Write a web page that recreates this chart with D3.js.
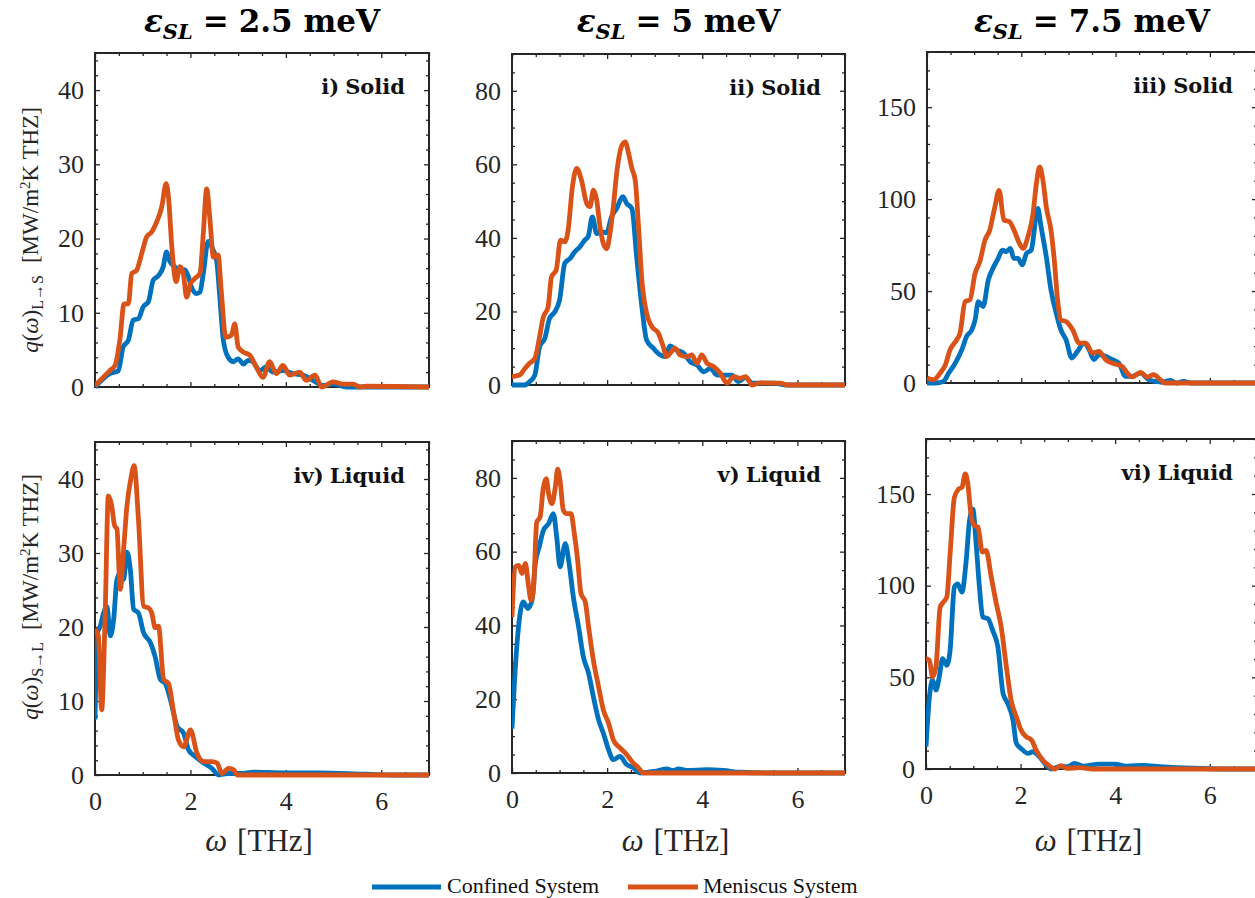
<!DOCTYPE html>
<html><head><meta charset="utf-8">
<script src="https://cdn.jsdelivr.net/npm/d3@7"></script>
<style>body{margin:0;background:#fff} svg{display:block}</style>
</head><body>
<svg id="chart" width="1255" height="898"></svg>
<script>
// ---------------- DATA ----------------
const energies = ["2.5", "5", "7.5"];
const panelLabels = ["i) Solid", "ii) Solid", "iii) Solid", "iv) Liquid", "v) Liquid", "vi) Liquid"];
const seriesNames = ["Confined System", "Meniscus System"];
const omegaTicks = [0, 2, 4, 6];
const yTicks25 = [0, 10, 20, 30, 40];
const yTicks5 = [0, 20, 40, 60, 80];
const yTicks75 = [0, 50, 100, 150];
const yMaxes = [45, 90, 180];

// solid, eps = 2.5 meV  [omega THz, q]
const solid25Confined = [[0,0],[0.31,1.8],[0.49,2.2],[0.59,5.4],[0.70,6.3],[0.80,9],[0.91,9.2],[1.01,10.8],[1.12,11.5],[1.22,14.4],[1.33,15],[1.43,16.2],[1.50,18.2],[1.57,16.9],[1.67,16.2],[1.78,15.7],[1.88,15.8],[1.95,15],[2.02,13.5],[2.13,12.6],[2.20,12.8],[2.27,15.3],[2.37,19.6],[2.48,18.4],[2.55,17],[2.62,11.7],[2.69,6.3],[2.79,4],[2.90,3.4],[3.00,3.8],[3.11,3.1],[3.21,3.6],[3.31,3.4],[3.45,2.2],[3.59,2.7],[3.73,2],[3.94,2.2],[4.15,1.8],[4.36,1.6],[4.57,0.9],[4.78,0.2],[4.99,0.4],[5.27,0],[7,0]];
const solid25Meniscus = [[0,0.2],[0.17,1.3],[0.31,2.2],[0.42,2.9],[0.52,6.3],[0.61,11.2],[0.70,11.2],[0.77,15.3],[0.87,15.7],[0.98,18],[1.08,20.2],[1.19,20.9],[1.29,22.2],[1.40,24.3],[1.49,27.4],[1.54,25.6],[1.61,18.9],[1.70,14.2],[1.78,16.2],[1.85,15.3],[1.92,12.1],[2.00,13.9],[2.09,14.6],[2.20,15.3],[2.27,20.7],[2.34,26.7],[2.41,22.5],[2.48,17.5],[2.58,17.8],[2.65,12.6],[2.74,6.7],[2.86,7],[2.93,8.5],[3.00,5.4],[3.11,4.7],[3.24,4.3],[3.38,2.7],[3.52,1.3],[3.66,3.4],[3.80,1.8],[3.94,2.9],[4.08,1.6],[4.29,2],[4.43,0.9],[4.61,1.6],[4.75,0],[4.99,0.7],[5.20,0.4],[5.41,0.4],[5.55,0],[5.69,0.1],[7,0]];
// solid, eps = 5 meV
const solid5Confined = [[0,0],[0.27,0],[0.37,0.9],[0.48,2.7],[0.58,10.4],[0.69,12.7],[0.79,18.1],[0.90,19.9],[1.00,23.1],[1.11,33.1],[1.22,34.4],[1.32,36.2],[1.43,37.6],[1.53,39.4],[1.60,40.3],[1.69,45.7],[1.78,41.2],[1.88,41.7],[1.99,41.4],[2.09,45.7],[2.20,48],[2.33,51.2],[2.41,49.4],[2.52,48],[2.62,34.9],[2.73,21.3],[2.83,12.2],[2.97,10],[3.11,8.2],[3.22,7.7],[3.32,10.6],[3.46,9.5],[3.61,8.6],[3.75,6.3],[3.89,5.4],[4.03,3.6],[4.17,4.5],[4.31,2.7],[4.45,2.7],[4.62,2.7],[4.76,0.9],[4.91,2.1],[5.05,0.5],[5.22,0.5],[5.50,0.5],[5.78,0],[7,0]];
const solid5Meniscus = [[0,2.3],[0.16,2.7],[0.27,4.5],[0.37,5.9],[0.48,7.2],[0.58,13.1],[0.65,18.1],[0.76,21.3],[0.83,29.4],[0.93,31.3],[1.02,39.4],[1.11,38.9],[1.18,42.1],[1.27,53.9],[1.36,58.9],[1.46,55.7],[1.57,49.4],[1.64,48.5],[1.71,53],[1.78,50.3],[1.85,43],[1.92,38.5],[1.99,37.1],[2.06,41.2],[2.13,48.5],[2.20,57.5],[2.30,64.8],[2.38,66.1],[2.45,63],[2.52,58.9],[2.59,55.7],[2.66,43],[2.73,28.5],[2.83,19.5],[2.94,15.9],[3.08,14],[3.18,10.4],[3.25,7.7],[3.32,8.6],[3.43,10],[3.53,8.2],[3.68,7.7],[3.78,8.2],[3.89,5.9],[3.99,8.2],[4.10,5.9],[4.24,5],[4.38,3.2],[4.52,0.5],[4.66,2.3],[4.80,1.8],[4.91,2.3],[5.05,0],[5.22,0.6],[5.43,0.5],[5.64,0.5],[5.78,0],[7,0]];
// solid, eps = 7.5 meV
const solid75Confined = [[0,0],[0.18,0],[0.35,0.9],[0.46,5.4],[0.60,10.8],[0.74,18.1],[0.84,25.3],[0.95,28.9],[1.02,34.3],[1.09,44.3],[1.19,41.6],[1.30,56],[1.40,62.4],[1.51,67.8],[1.60,72.3],[1.68,71.4],[1.77,73.2],[1.84,67.8],[1.93,67.8],[2.02,64.2],[2.11,70.5],[2.21,72.3],[2.35,94.9],[2.42,84.9],[2.53,68.7],[2.63,50.6],[2.74,38],[2.84,28.9],[2.95,23.5],[3.07,13.6],[3.19,17.2],[3.33,21.7],[3.44,18.1],[3.54,12.7],[3.65,15.4],[3.79,14.5],[3.93,12.7],[4.07,10.8],[4.21,3.6],[4.35,3.6],[4.53,5.4],[4.70,1.8],[4.84,0.9],[4.98,0.4],[5.16,1.4],[5.30,0],[5.44,0.9],[5.61,0],[7,0]];
const solid75Meniscus = [[0,2.7],[0.14,1.8],[0.28,5.4],[0.39,9.9],[0.49,18.1],[0.63,23.5],[0.70,27.1],[0.81,44.3],[0.91,45.2],[1.02,59.6],[1.12,66],[1.23,77.7],[1.33,83.1],[1.44,95.8],[1.53,104.8],[1.63,88.6],[1.75,87.7],[1.86,82.2],[1.96,75.9],[2.04,73.2],[2.14,79.5],[2.25,92.2],[2.32,108.4],[2.39,117.5],[2.46,110.2],[2.53,95.8],[2.63,83.1],[2.70,66.9],[2.77,45.2],[2.84,34.3],[2.95,33.4],[3.09,28.9],[3.23,21.7],[3.37,21.7],[3.51,16.3],[3.65,17.2],[3.79,12.7],[3.93,10.8],[4.14,9],[4.25,5.4],[4.35,3.3],[4.53,5.8],[4.67,3.3],[4.81,4.5],[4.95,1.8],[5.05,0],[7,0]];
// liquid, eps = 2.5 meV
const liquid25Confined = [[0,7.5],[0.05,19.2],[0.11,20.1],[0.18,21.9],[0.25,22.8],[0.32,18.8],[0.39,21],[0.46,26.4],[0.53,27.3],[0.60,26.4],[0.67,30.1],[0.74,27.8],[0.81,22.4],[0.91,21.9],[1.02,19.2],[1.16,17.9],[1.26,16],[1.37,12.9],[1.47,12.4],[1.58,10.2],[1.72,6.6],[1.86,5.6],[1.96,3.4],[2.10,2.5],[2.28,1.6],[2.45,0.9],[2.59,0],[2.77,0.2],[3.05,0.2],[3.33,0.4],[3.96,0.3],[4.66,0.3],[5.71,0.1],[6.41,0],[7,0]];
const liquid25Meniscus = [[0,19.7],[0.07,18.8],[0.14,8.8],[0.21,21],[0.28,37.7],[0.35,36.4],[0.41,33.7],[0.46,33.2],[0.53,25.1],[0.60,30.5],[0.67,36.4],[0.75,40],[0.82,41.8],[0.91,34.6],[1.02,22.8],[1.12,22.6],[1.19,21.9],[1.26,19.9],[1.33,20.1],[1.44,12.9],[1.54,12.4],[1.65,8.4],[1.75,4.7],[1.86,3.8],[2.00,6.1],[2.14,2.9],[2.28,1.8],[2.45,1.8],[2.56,1.6],[2.66,0.2],[2.80,0.9],[2.91,0.7],[2.98,0],[7,0]];
// liquid, eps = 5 meV
const liquid5Confined = [[0,12],[0.09,32.4],[0.17,43.2],[0.24,46.4],[0.33,44.6],[0.42,46.8],[0.49,56.8],[0.58,61.7],[0.66,65.8],[0.77,67.6],[0.87,70.3],[0.94,64],[1.01,55.9],[1.12,62.2],[1.19,57.7],[1.29,47.7],[1.40,39.6],[1.50,31.5],[1.61,27],[1.71,20.7],[1.82,14.4],[1.92,10.8],[2.03,6.3],[2.13,3.6],[2.27,4.5],[2.41,2.3],[2.55,1.4],[2.69,0],[2.83,0.2],[3.04,0.5],[3.25,1.1],[3.39,0.7],[3.50,1.1],[3.67,0.7],[4.09,0.9],[4.44,0.7],[4.79,0.2],[5.49,0],[7,0]];
const liquid5Meniscus = [[0,42.3],[0.07,55.9],[0.14,56.3],[0.21,54.1],[0.28,56.8],[0.35,50.5],[0.40,46.8],[0.45,49.5],[0.52,68],[0.59,69.4],[0.66,77.5],[0.72,79.8],[0.77,75.7],[0.84,73],[0.91,77.5],[0.96,82.4],[1.01,79.3],[1.08,71.2],[1.15,70.3],[1.24,70.3],[1.31,64.9],[1.38,57.7],[1.45,48.6],[1.54,46.4],[1.61,39.6],[1.71,30.6],[1.82,23.4],[1.92,17.1],[2.03,13.5],[2.13,9],[2.27,6.8],[2.41,5],[2.55,2.7],[2.66,1.4],[2.76,0],[7,0]];
// liquid, eps = 7.5 meV
const liquid75Confined = [[0,12.2],[0.08,41.2],[0.14,48.4],[0.21,43],[0.28,50.2],[0.35,60.2],[0.44,56.6],[0.51,64.8],[0.60,99.2],[0.67,101],[0.76,96.5],[0.85,113.7],[0.92,135.5],[0.99,141.8],[1.06,122.8],[1.13,99.2],[1.20,82.9],[1.31,82],[1.41,75.6],[1.52,66.6],[1.63,41.2],[1.73,35.7],[1.84,26.7],[1.91,14],[2.01,11.2],[2.16,8.5],[2.26,9.4],[2.40,6.7],[2.54,2.2],[2.65,0],[2.83,1.3],[3.00,1.3],[3.14,3.1],[3.32,1.6],[3.67,2.7],[3.99,2.7],[4.24,1.6],[4.59,2],[4.95,1.3],[5.65,0.4],[6.36,0],[7,0]];
const liquid75Meniscus = [[0,60.2],[0.07,59.3],[0.14,50.2],[0.21,55.7],[0.30,88.3],[0.37,91.1],[0.44,93.8],[0.51,117.4],[0.60,148.2],[0.69,152.7],[0.76,153.6],[0.83,160.9],[0.88,156.4],[0.95,139.1],[1.02,132.8],[1.10,131.9],[1.19,118.3],[1.27,119.2],[1.38,104.7],[1.48,91.1],[1.59,77.5],[1.70,55.7],[1.80,37.5],[1.91,28.5],[2.01,21.2],[2.12,17.6],[2.23,15.8],[2.33,10.3],[2.44,5.8],[2.58,2.2],[2.72,0],[2.86,1.8],[2.97,0.4],[3.25,0.7],[3.53,0],[7,0]];

// ---------------- LAYOUT / STYLE ----------------
const colors = ["#0072BD", "#D95319"];
const axisColor = "#262626";
const boxes = [
  {x: 95, y: 53, w: 334, h: 334},
  {x: 512, y: 54, w: 333, h: 331},
  {x: 927, y: 52, w: 330, h: 331},
  {x: 95, y: 442, w: 334, h: 333},
  {x: 512, y: 441, w: 333, h: 332},
  {x: 926, y: 439, w: 331, h: 330}
];
const panels = [
  {label: panelLabels[0], ymax: yMaxes[0], ticks: yTicks25, minor: 2, series: [solid25Confined, solid25Meniscus]},
  {label: panelLabels[1], ymax: yMaxes[1], ticks: yTicks5, minor: 5, series: [solid5Confined, solid5Meniscus]},
  {label: panelLabels[2], ymax: yMaxes[2], ticks: yTicks75, minor: 10, series: [solid75Confined, solid75Meniscus]},
  {label: panelLabels[3], ymax: yMaxes[0], ticks: yTicks25, minor: 2, series: [liquid25Confined, liquid25Meniscus]},
  {label: panelLabels[4], ymax: yMaxes[1], ticks: yTicks5, minor: 5, series: [liquid5Confined, liquid5Meniscus]},
  {label: panelLabels[5], ymax: yMaxes[2], ticks: yTicks75, minor: 10, series: [liquid75Confined, liquid75Meniscus]}
];

const svg = d3.select("#chart");
const serif = "'Liberation Serif', serif";
const boldSerif = "'DejaVu Serif', serif";

function styleAxis(g, showLabels) {
  g.attr("font-family", serif).attr("font-size", 26);
  g.select(".domain").remove();
  g.selectAll(".tick line").attr("stroke", axisColor).attr("stroke-width", 1.3);
  g.selectAll(".tick text").attr("fill", axisColor)
    .style("font-family", serif).style("font-size", "26px");
  if (!showLabels) g.selectAll(".tick text").remove();
}

panels.forEach((p, i) => {
  const b = boxes[i];
  const row = Math.floor(i / 3);
  const x = d3.scaleLinear().domain([0, 7]).range([b.x, b.x + b.w]);
  const y = d3.scaleLinear().domain([0, p.ymax]).range([b.y + b.h, b.y]);
  const g = svg.append("g");

  const xMinor = d3.range(0, 7.001, 0.5).filter(v => !omegaTicks.includes(v));
  const yMinor = d3.range(0, p.ymax + 0.001, p.minor).filter(v => !p.ticks.includes(v));
  const fmt = d3.format("d");

  // left
  g.append("g").attr("transform", `translate(${b.x},0)`)
    .call(d3.axisLeft(y).tickValues(p.ticks).tickFormat(fmt).tickSize(-5).tickPadding(11)).call(s => styleAxis(s, true));
  g.append("g").attr("transform", `translate(${b.x},0)`)
    .call(d3.axisLeft(y).tickValues(yMinor).tickSize(-3).tickFormat("")).call(s => styleAxis(s, false));
  // right
  g.append("g").attr("transform", `translate(${b.x + b.w},0)`)
    .call(d3.axisRight(y).tickValues(p.ticks).tickSize(-5).tickFormat("")).call(s => styleAxis(s, false));
  g.append("g").attr("transform", `translate(${b.x + b.w},0)`)
    .call(d3.axisRight(y).tickValues(yMinor).tickSize(-3).tickFormat("")).call(s => styleAxis(s, false));
  // bottom
  g.append("g").attr("transform", `translate(0,${b.y + b.h})`)
    .call(d3.axisBottom(x).tickValues(omegaTicks).tickFormat(fmt).tickSize(-5).tickPadding(17)).call(s => styleAxis(s, row === 1));
  g.append("g").attr("transform", `translate(0,${b.y + b.h})`)
    .call(d3.axisBottom(x).tickValues(xMinor).tickSize(-3).tickFormat("")).call(s => styleAxis(s, false));
  // top
  g.append("g").attr("transform", `translate(0,${b.y})`)
    .call(d3.axisTop(x).tickValues(omegaTicks).tickSize(-5).tickFormat("")).call(s => styleAxis(s, false));
  g.append("g").attr("transform", `translate(0,${b.y})`)
    .call(d3.axisTop(x).tickValues(xMinor).tickSize(-3).tickFormat("")).call(s => styleAxis(s, false));

  // frame
  g.append("rect").attr("x", b.x).attr("y", b.y).attr("width", b.w).attr("height", b.h)
    .attr("fill", "none").attr("stroke", axisColor).attr("stroke-width", 2);

  // clip
  const cid = "clip" + i;
  svg.append("clipPath").attr("id", cid).append("rect")
    .attr("x", b.x).attr("y", b.y - 6).attr("width", b.w).attr("height", b.h + 12);

  const line = d3.line().x(d => x(d[0])).y(d => y(d[1])).curve(d3.curveMonotoneX);
  p.series.forEach((s, k) => {
    g.append("path").datum(s).attr("d", line)
      .attr("clip-path", `url(#${cid})`)
      .attr("fill", "none").attr("stroke", colors[k]).attr("stroke-width", 4.8)
      .attr("stroke-linejoin", "round");
  });

  // panel label
  const pl = g.append("text").attr("x", b.x + b.w - 24).attr("y", b.y + 41)
    .attr("text-anchor", "end").style("font-family", boldSerif).style("font-weight", "bold")
    .style("font-size", "21px").attr("fill", "#111");
  const parts = p.label.split(" ");
  pl.append("tspan").text(parts[0]);
  pl.append("tspan").attr("dx", 6).text(parts[1]);

  // x axis title (bottom row)
  if (row === 1) {
    const t = svg.append("text").attr("x", b.x + b.w / 2 - 3).attr("y", 851)
      .attr("text-anchor", "middle").style("font-family", serif).style("font-size", "31px").attr("fill", axisColor);
    t.append("tspan").style("font-style", "italic").text("ω");
    t.append("tspan").attr("dx", 10).text("[THz]");
  }
  // column title (top row)
  if (row === 0) {
    const t = svg.append("text").attr("x", b.x + b.w / 2).attr("y", 32)
      .attr("text-anchor", "middle").style("font-family", boldSerif).style("font-weight", "bold")
      .style("font-size", "31px").attr("fill", "#000");
    t.append("tspan").style("font-style", "italic").text("ε");
    t.append("tspan").style("font-style", "italic").style("font-size", "21px").attr("dy", 7).text("SL");
    t.append("tspan").attr("dy", -7).attr("dx", 10).text("=");
    t.append("tspan").attr("dx", 10).text(energies[i] + " meV");
  }
});

// y-axis titles
const yLabelSubs = ["L→S", "S→L"];
const yLabelCenters = [230, 597];
yLabelSubs.forEach((sub, r) => {
  const t = svg.append("text")
    .attr("transform", `translate(38,${yLabelCenters[r]}) rotate(-90)`)
    .attr("text-anchor", "middle").style("font-family", serif).style("font-size", "23px").attr("fill", axisColor);
  t.append("tspan").style("font-style", "italic").text("q");
  t.append("tspan").text("(");
  t.append("tspan").style("font-style", "italic").text("ω");
  t.append("tspan").text(")");
  t.append("tspan").style("font-size", "16px").attr("dy", 5).text("L→S" === sub ? "L→S" : "S→L");
  t.append("tspan").attr("dy", -5).attr("dx", 12).text("[MW/m");
  t.append("tspan").style("font-size", "15px").attr("dy", -8).text("2");
  t.append("tspan").attr("dy", 8).text("K THZ]");
});

// legend
const legendItems = [
  {name: seriesNames[0], x1: 372, x2: 441, tx: 447},
  {name: seriesNames[1], x1: 628, x2: 698, tx: 703}
];
legendItems.forEach((it, k) => {
  svg.append("line").attr("x1", it.x1).attr("x2", it.x2).attr("y1", 887).attr("y2", 887)
    .attr("stroke", colors[k]).attr("stroke-width", 4.8);
  svg.append("text").attr("x", it.tx).attr("y", 893).style("font-family", serif)
    .style("font-size", "22px").attr("fill", "#111").text(it.name);
});
</script>
</body></html>
